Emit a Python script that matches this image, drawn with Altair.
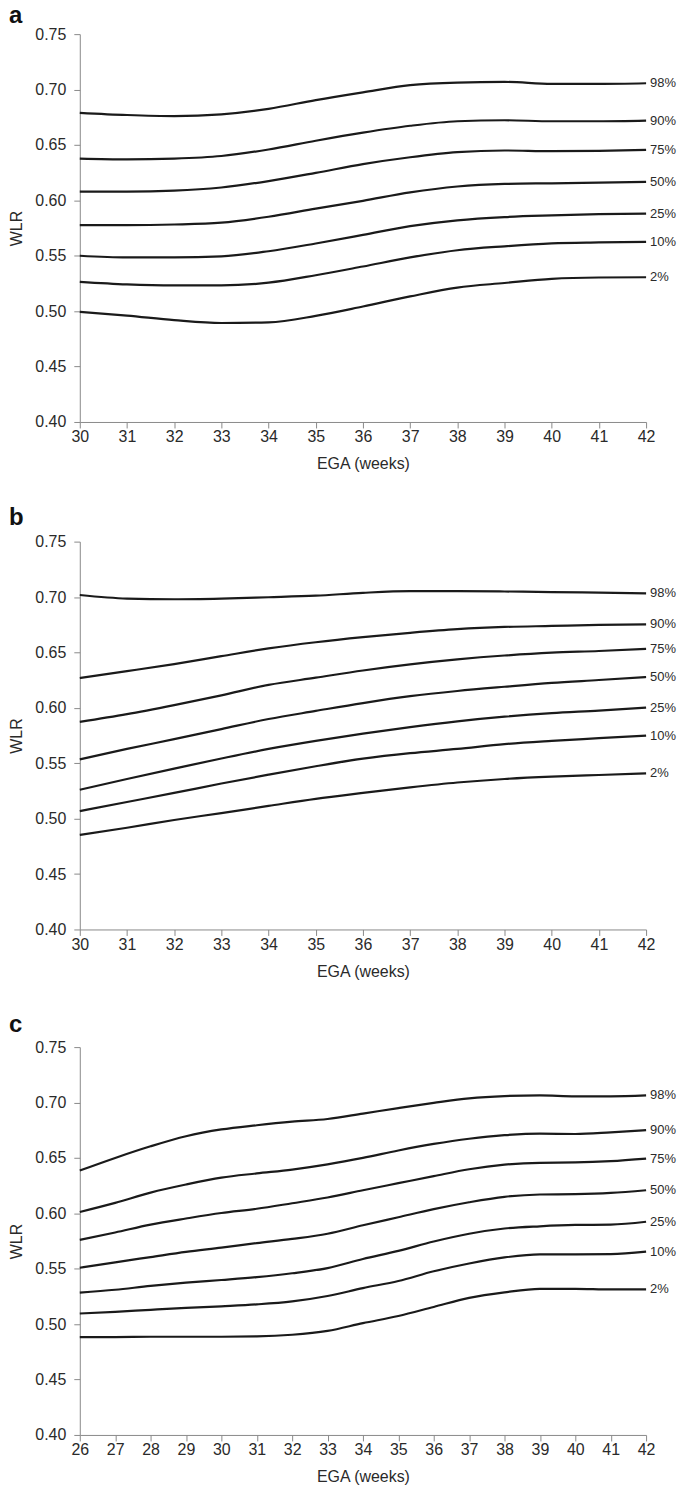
import altair as alt
import pandas as pd

PCTS = ["98%", "90%", "75%", "50%", "25%", "10%", "2%"]
Y_TICKS = [0.40, 0.45, 0.50, 0.55, 0.60, 0.65, 0.70, 0.75]

WEEKS_AB = list(range(30, 43))
WEEKS_C = list(range(26, 43))

# Panel a (EGA 30-42)
A_98 = [0.679, 0.677, 0.676, 0.6776, 0.6826, 0.6905, 0.6975, 0.704, 0.7063, 0.7069, 0.7051, 0.7051, 0.7057]
A_90 = [0.6377, 0.637, 0.6377, 0.640, 0.6459, 0.6538, 0.6611, 0.6673, 0.6714, 0.6723, 0.6714, 0.6714, 0.672]
A_75 = [0.6078, 0.6078, 0.6087, 0.6116, 0.6174, 0.6248, 0.6327, 0.6389, 0.6435, 0.645, 0.6444, 0.6447, 0.6456]
A_50 = [0.5776, 0.5776, 0.5782, 0.5799, 0.5852, 0.5925, 0.5996, 0.6072, 0.6125, 0.6148, 0.6154, 0.616, 0.6166]
A_25 = [0.550, 0.5485, 0.5485, 0.5494, 0.5541, 0.5611, 0.5688, 0.5767, 0.582, 0.5849, 0.5864, 0.5875, 0.5881]
A_10 = [0.5265, 0.5242, 0.5233, 0.5233, 0.5257, 0.5324, 0.5403, 0.5485, 0.555, 0.5585, 0.5611, 0.562, 0.5626]
A_02 = [0.4993, 0.496, 0.4919, 0.4893, 0.4899, 0.4957, 0.5042, 0.5133, 0.5213, 0.5254, 0.5292, 0.5304, 0.5306]

# Panel b (EGA 30-42)
B_98 = [0.7018, 0.6986, 0.698, 0.6986, 0.6998, 0.7012, 0.7038, 0.7053, 0.7053, 0.705, 0.7045, 0.7039, 0.7033]
B_90 = [0.6269, 0.6331, 0.6395, 0.6466, 0.6536, 0.6592, 0.6638, 0.6677, 0.671, 0.673, 0.6739, 0.6748, 0.6754]
B_75 = [0.5873, 0.5943, 0.6025, 0.6113, 0.6207, 0.6272, 0.6337, 0.6392, 0.6437, 0.6472, 0.6498, 0.6513, 0.6533]
B_50 = [0.5535, 0.5629, 0.5717, 0.5808, 0.5899, 0.5972, 0.6043, 0.6105, 0.6152, 0.619, 0.6225, 0.6251, 0.6278]
B_25 = [0.5261, 0.5358, 0.5452, 0.5543, 0.5629, 0.5702, 0.5767, 0.5826, 0.5878, 0.592, 0.5952, 0.5975, 0.6002]
B_10 = [0.5068, 0.515, 0.5232, 0.5317, 0.5397, 0.5473, 0.5541, 0.5591, 0.5629, 0.5673, 0.5702, 0.5726, 0.575]
B_02 = [0.4853, 0.4918, 0.4988, 0.505, 0.5115, 0.5179, 0.5232, 0.5282, 0.5326, 0.5358, 0.5379, 0.5394, 0.5408]

# Panel c (EGA 26-42)
C_98 = [0.6386, 0.650, 0.6605, 0.6696, 0.6757, 0.6795, 0.6827, 0.6851, 0.690, 0.695, 0.6997, 0.7038, 0.7058, 0.7064, 0.7056, 0.7056, 0.7064]
C_90 = [0.6012, 0.6094, 0.6187, 0.626, 0.6322, 0.636, 0.6395, 0.6442, 0.650, 0.6567, 0.6626, 0.6673, 0.6705, 0.6719, 0.6716, 0.6731, 0.6751]
C_75 = [0.576, 0.5827, 0.5898, 0.5953, 0.6003, 0.6041, 0.6091, 0.6143, 0.6208, 0.6272, 0.6336, 0.6398, 0.6439, 0.6456, 0.6459, 0.6471, 0.6494]
C_50 = [0.5509, 0.5558, 0.5605, 0.5652, 0.569, 0.5731, 0.5769, 0.5816, 0.5892, 0.5965, 0.6038, 0.610, 0.6149, 0.617, 0.6173, 0.6184, 0.6208]
C_25 = [0.5284, 0.531, 0.5345, 0.5374, 0.5398, 0.5424, 0.5459, 0.5506, 0.5588, 0.5661, 0.5746, 0.5816, 0.5863, 0.5883, 0.5895, 0.5898, 0.5924]
C_10 = [0.5096, 0.5111, 0.5129, 0.5146, 0.5161, 0.5178, 0.5205, 0.5254, 0.5325, 0.5389, 0.5477, 0.5547, 0.5602, 0.5629, 0.5629, 0.5632, 0.5655]
C_02 = [0.4883, 0.4883, 0.4886, 0.4886, 0.4886, 0.4889, 0.4904, 0.4939, 0.5009, 0.5073, 0.5155, 0.5237, 0.5287, 0.5319, 0.5319, 0.5313, 0.5313]

FONT = "Liberation Sans"
INK = "#1a1a1a"
TXT = "#2a2a2a"
AXC = "#8a8a8a"


def make_df(weeks, series):
    rows = []
    for pct, vals in zip(PCTS, series):
        for w, v in zip(weeks, vals):
            rows.append({"week": w, "wlr": v, "pct": pct})
    return pd.DataFrame(rows)


def panel(weeks, series, letter, letter_dy, width):
    df = make_df(weeks, series)
    xs = alt.Scale(domain=[weeks[0], weeks[-1]], nice=False, zero=False)
    ys = alt.Scale(domain=[0.40, 0.75], nice=False, zero=False)
    x = alt.X("week:Q", scale=xs,
              axis=alt.Axis(values=weeks, format="d", title="EGA (weeks)",
                            labelPadding=1, titlePadding=11,
                            labelFlush=False, labelOverlap=False))
    y = alt.Y("wlr:Q", scale=ys,
              axis=alt.Axis(values=Y_TICKS, format=".2f", title="WLR",
                            labelPadding=8, titlePadding=10,
                            labelFlush=False, labelOverlap=False))
    lines = alt.Chart(df).mark_line(
        interpolate="monotone", color=INK, strokeWidth=2.2
    ).encode(x=x, y=y, detail="pct:N")
    end = df[df["week"] == weeks[-1]]
    labels = alt.Chart(end).mark_text(
        align="left", baseline="middle", dx=4, fontSize=13, font=FONT, color=TXT
    ).encode(x=x, y=y, text="pct:N")
    tag = alt.Chart(pd.DataFrame({"t": [letter]})).mark_text(
        align="left", baseline="alphabetic", fontSize=24, fontWeight="bold",
        font=FONT, color="#111111"
    ).encode(x=alt.value(-71), y=alt.value(letter_dy), text="t:N")
    return alt.layer(lines, labels, tag).properties(width=width, height=389)


pa = panel(WEEKS_AB, [A_98, A_90, A_75, A_50, A_25, A_10, A_02], "a", -11, 568)
pb = panel(WEEKS_AB, [B_98, B_90, B_75, B_50, B_25, B_10, B_02], "b", -17, 568)
pc = panel(WEEKS_C, [C_98, C_90, C_75, C_50, C_25, C_10, C_02], "c", -15, 568)

chart = alt.vconcat(pa, pb, pc, spacing=34).properties(
    padding={"left": 0, "top": -6, "right": 0, "bottom": 0}
).configure_view(stroke=None).configure_axis(
    grid=False,
    labelFont=FONT, labelFontSize=16, labelColor=TXT,
    titleFont=FONT, titleFontSize=16, titleFontWeight="normal", titleColor=TXT,
    domainColor=AXC, tickColor=AXC, tickSize=6, domainWidth=1, tickWidth=1,
)

chart.save("out.html", embed_options={"renderer": "svg", "actions": False})
